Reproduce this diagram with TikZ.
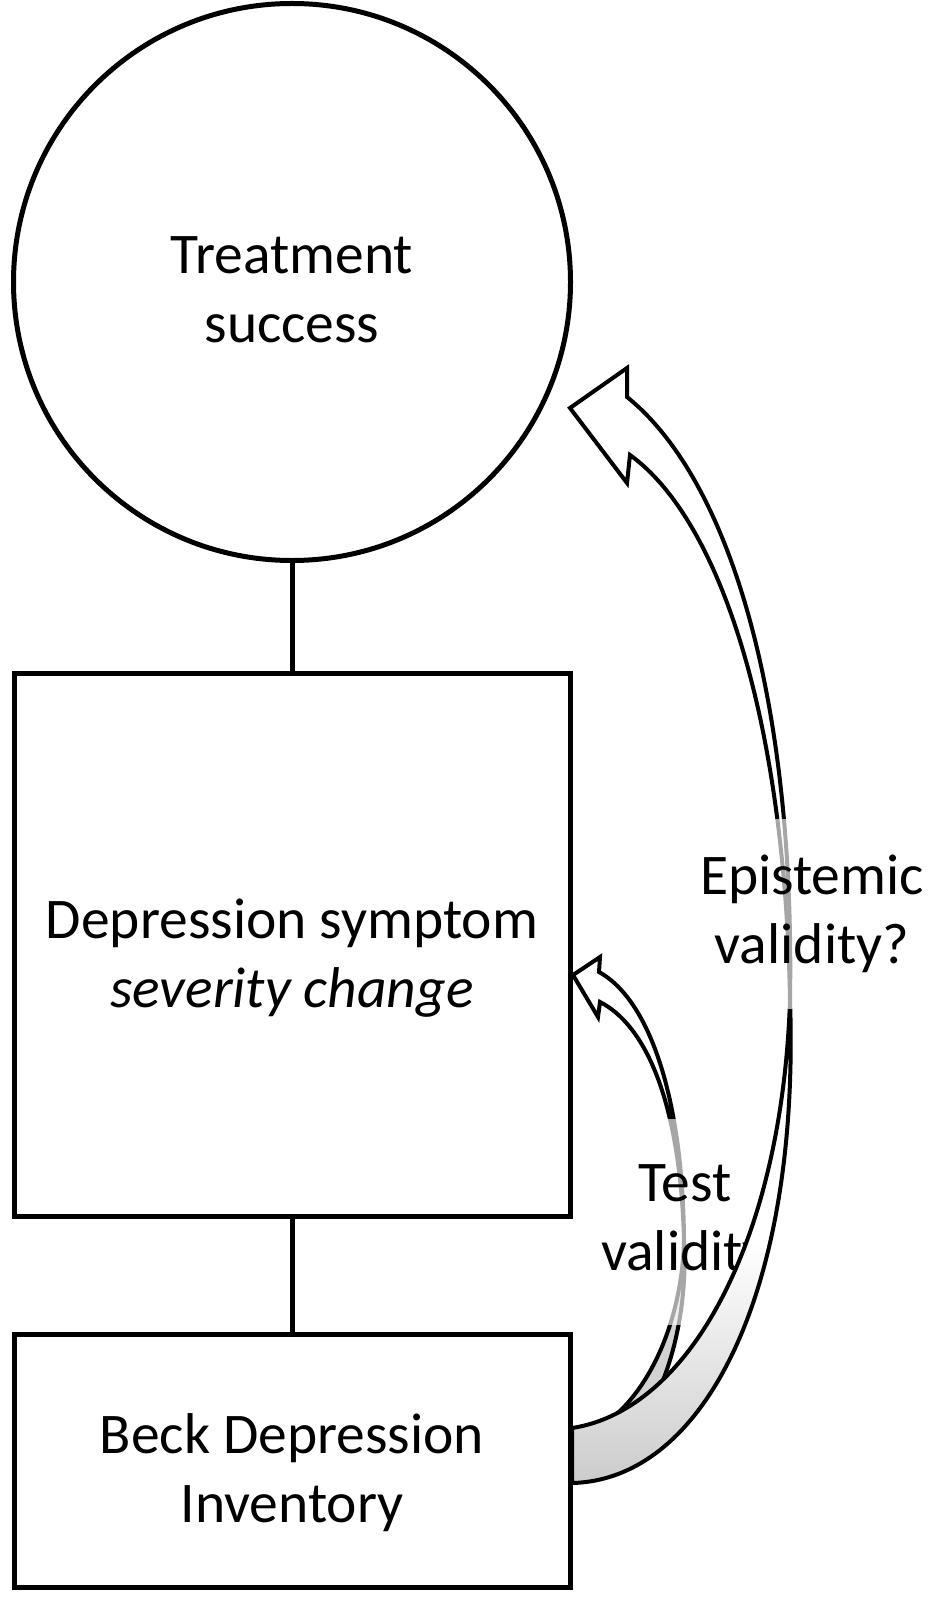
\documentclass[tikz,border=0pt]{standalone}
\usepackage{fontspec}
\setmainfont{Carlito}
\begin{document}
\begin{tikzpicture}[x=1pt,y=-1pt,line width=5pt,
    lbl/.style={font=\fontsize{57.5}{69}\selectfont,align=center,inner sep=0pt},
    frame/.style={draw,inner sep=0pt},
    veil/.style={lbl,fill=white,fill opacity=0.65,text opacity=1,inner xsep=6pt},
    ribbon/.style={draw,line width=4pt,line join=miter,fill=white}]
  \useasboundingbox (0,0) rectangle (939,1602);
  \node[frame,circle,minimum size=557pt] (ts) at (292,282) {};
  \node[frame,minimum width=556pt,minimum height=543pt] (dss) at (292,944.5) {};
  \node[frame,minimum width=556pt,minimum height=253pt] (bdi) at (292,1460.5) {};
  \node[lbl] (tstext) at (292,290) {Treatment\\success};
  \node[lbl] (dsstext) at (292,958) {Depression symptom\\\textit{severity change}};
  \node[lbl] (bditext) at (292,1473) {Beck Depression\\Inventory};
  \draw (ts.south) -- (dss.north);
  \draw (dss.south) -- (bdi.north);
  \draw[ribbon,fill=gray!35] (684,1240) .. controls (682,1330) and (640,1420) .. (572,1440)
    -- (572,1470) .. controls (650,1460) and (690,1340) .. (684,1240) -- cycle;
  \draw[ribbon] (684,1240) .. controls (683,1100) and (650,1000) .. (599,972)
    -- (600,957) -- (573,975) -- (598,1017) -- (600,1002)
    .. controls (645,1025) and (680,1100) .. (684,1240) -- cycle;
  \node[veil,inner ysep=45pt] (tv) at (685,1222) {Test\\validity};
  \draw[ribbon,top color=white,bottom color=gray!40,middle color=white]
    (790,1000) .. controls (782,1240) and (690,1410) .. (572,1428)
    -- (572,1483) .. controls (705,1480) and (800,1290) .. (790,1000) -- cycle;
  \draw[ribbon] (790,1000) .. controls (795,700) and (730,480) .. (627,397)
    -- (627,368) -- (570,408) -- (627,483) -- (630,455)
    .. controls (720,520) and (785,720) .. (790,1000) -- cycle;
  \node[veil,inner ysep=36pt] (ev) at (812,914) {Epistemic\\validity?};
\end{tikzpicture}
\end{document}
